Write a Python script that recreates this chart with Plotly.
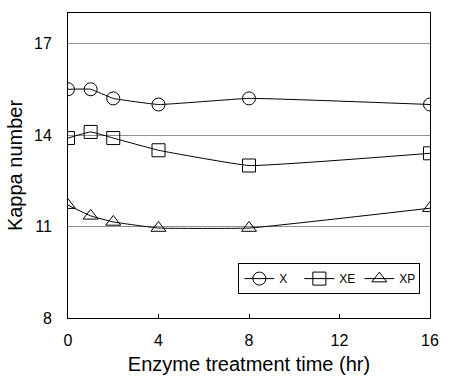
import plotly.graph_objects as go

time_hr = [0, 1, 2, 4, 8, 16]
kappa_X = [15.5, 15.5, 15.2, 15.0, 15.2, 15.0]
kappa_XE = [13.9, 14.1, 13.9, 13.5, 13.0, 13.4]
kappa_XP = [11.7, 11.35, 11.15, 10.95, 10.95, 11.6]
series_names = ["X", "XE", "XP"]
x_ticks = [0, 4, 8, 12, 16]
y_ticks = [8, 11, 14, 17]

fig = go.Figure()
symbols = ["circle-open", "square-open", "triangle-up-open"]
for name, vals, sym in zip(series_names, [kappa_X, kappa_XE, kappa_XP], symbols):
    fig.add_trace(go.Scatter(
        x=time_hr, y=vals, name=name, mode="lines+markers",
        line=dict(color="black", width=1, shape="spline", smoothing=0.3),
        marker=dict(symbol=sym, size=13, color="black", line=dict(width=1)),
    ))

font_family = "Liberation Sans, Arial, sans-serif"
fig.update_layout(
    width=450, height=389,
    margin=dict(l=68, r=20, t=13, b=71),
    paper_bgcolor="white", plot_bgcolor="white",
    font=dict(family=font_family, color="black", size=14),
    showlegend=True,
    legend=dict(orientation="h", x=0.722, y=0.18, xanchor="center", yanchor="top",
                bordercolor="black", borderwidth=1, bgcolor="white",
                font=dict(size=12), itemwidth=30, tracegroupgap=0,
                entrywidth=15, entrywidthmode="pixels"),
    xaxis=dict(range=[0, 16], tickvals=x_ticks, showgrid=False, zeroline=False,
               showline=True, linecolor="black", linewidth=1, mirror=True,
               ticks="inside", ticklen=4, tickcolor="black", ticklabelstandoff=8,
               tickfont=dict(size=16),
               title=dict(text="Enzyme treatment time (hr)", font=dict(size=20), standoff=8)),
    yaxis=dict(range=[8, 18], tickvals=y_ticks, showgrid=True, gridcolor="#909090", gridwidth=1,
               zeroline=False, showline=True, linecolor="black", linewidth=1, mirror=True,
               ticks="", tickfont=dict(size=16), ticklabelstandoff=12,
               title=dict(text="Kappa number", font=dict(size=20), standoff=6)),
)
fig.write_html("out.html", config={"displayModeBar": False},
               post_script="document.body.style.margin='0';")
